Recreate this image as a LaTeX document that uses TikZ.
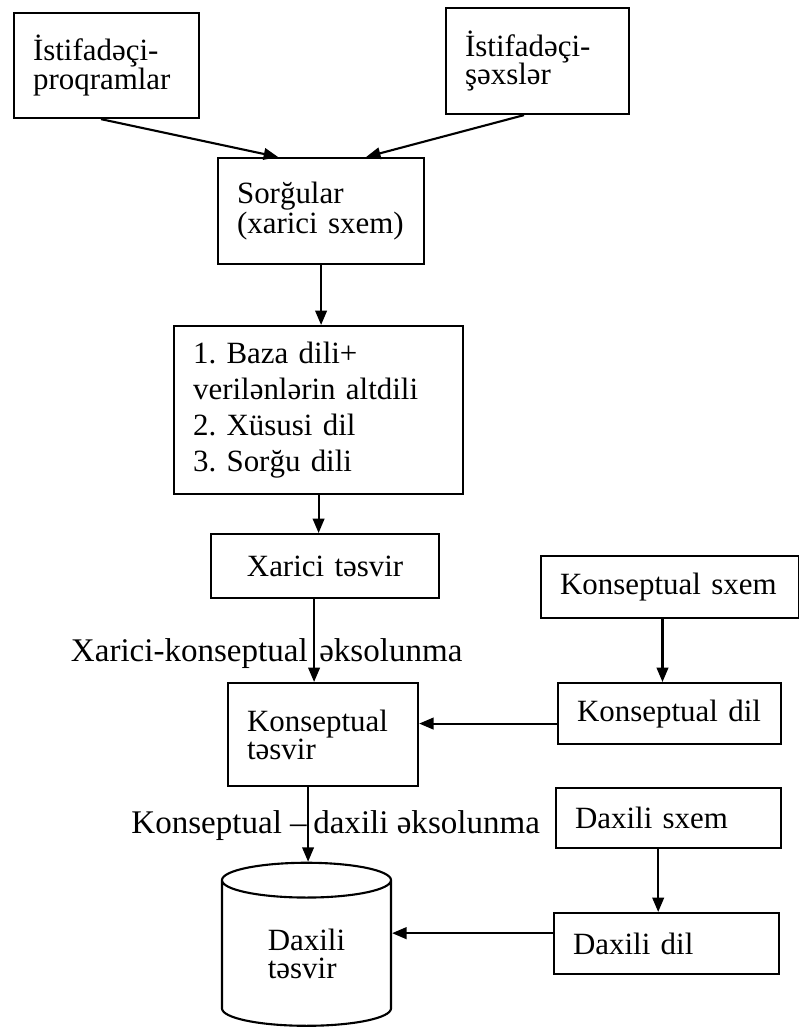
\documentclass[tikz,border=0pt]{standalone}
\usepackage{fontspec}
\setmainfont{Liberation Serif}
\usetikzlibrary{arrows.meta,positioning,shapes.geometric}
\frenchspacing

\begin{document}
\begin{tikzpicture}[
x=0.025cm, y=-0.025cm,
font=\fontsize{22}{20}\selectfont,
box/.style={draw, line width=1.5pt, anchor=north west, align=left, inner xsep=0.475cm, inner ysep=0pt},
cyl/.style={draw, line width=1.5pt, cylinder, shape border rotate=90, aspect=0.45, minimum width=4.225cm, minimum height=4.075cm, align=left, inner sep=0pt},
label/.style={inner sep=0pt, font=\fontsize{23.5}{20}\selectfont},
arr/.style={-{Triangle[length=3.6mm,width=2.9mm]}, line width=1.5pt}
]
\useasboundingbox (0,0) rectangle (799,1036);

% Users
\node[box, text width=3.675cm, minimum height=2.625cm] (prog) at (13,12) {İstifadəçi-\\proqramlar};
\node[box, text width=3.625cm, minimum height=2.65cm] (sexs) at (445,7) {İstifadəçi-\\şəxslər};

% Left column
\node[box, text width=4.2cm, minimum height=2.65cm] (sorgu) at (217,157) {Sorğular\\(xarici sxem)};
\node[box, text width=6.275cm, minimum height=4.2cm, font=\fontsize{22}{25.5}\selectfont] (dil) at (173,325) {1. Baza dili+\\verilənlərin altdili\\2. Xüsusi dil\\3. Sorğu dili};
\node[box, text width=4.75cm, minimum height=1.6cm, align=center] (xarici) at (210,533) {Xarici təsvir};
\node[box, text width=3.8cm, minimum height=2.575cm] (ktesvir) at (227,682) {Konseptual\\təsvir};
\node[cyl] (dtesvir) at (306.5,953.5) {Daxili\\təsvir};

% Right column
\node[box, text width=5.5cm, minimum height=1.55cm] (ksxem) at (540,555) {Konseptual sxem};
\node[box, text width=4.625cm, minimum height=1.525cm] (kdil) at (557,682) {Konseptual dil};
\node[box, text width=4.675cm, minimum height=1.5cm] (dsxem) at (555,787) {Daxili sxem};
\node[box, text width=4.675cm, minimum height=1.525cm] (ddil) at (553,912) {Daxili dil};

% Mapping labels
\node[label, anchor=base east] (xk1) at (308,661) {Xarici-konseptual};
\node[label, anchor=base west] (xk2) at (319,661) {əksolunma};
\node[label, anchor=base east] (kd1) at (307,833) {Konseptual –};
\node[label, anchor=base west] (kd2) at (313,833) {daxili əksolunma};

% Arrows
\draw[arr] ([xshift=-0.14cm]prog.south) -- ([xshift=-1.075cm]sorgu.north);
\draw[arr] ([xshift=-0.34cm]sexs.south) -- ([xshift=1.125cm]sorgu.north);
\draw[arr] (sorgu.south) -- (sorgu.south |- dil.north);
\draw[arr] (dil.south) -- (dil.south |- xarici.north);
\draw[arr] ([xshift=-0.275cm]xarici.south) -- ([xshift=-0.275cm]xarici.south |- ktesvir.north);
\draw[arr] ([xshift=-0.375cm]ktesvir.south) -- ([xshift=-0.375cm]ktesvir.south |- dtesvir.north);
\draw[arr] ([xshift=-0.19cm]ksxem.south) -- ([xshift=-0.19cm]ksxem.south |- kdil.north);
\draw[arr] ([yshift=-0.25cm]kdil.west) -- ([yshift=-0.25cm]kdil.west -| ktesvir.east);
\draw[arr] ([xshift=-0.26cm]dsxem.south) -- ([xshift=-0.26cm]dsxem.south |- ddil.north);
\draw[arr] ([yshift=0.26cm]ddil.west) -- ([yshift=0.26cm]ddil.west -| dtesvir.east);

\end{tikzpicture}
\end{document}
